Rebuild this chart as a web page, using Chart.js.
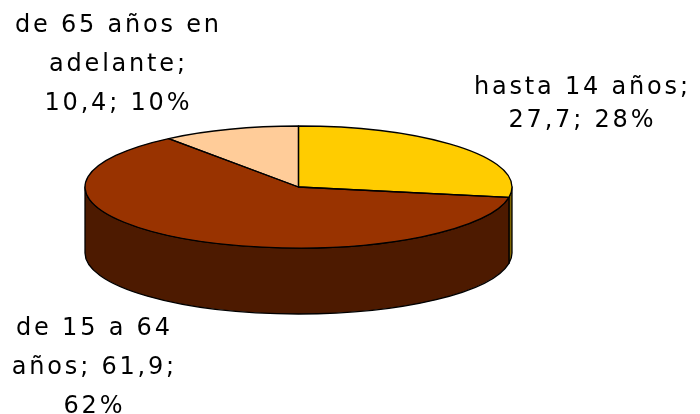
<!DOCTYPE html>
<html><head><meta charset="utf-8">
<script src="https://cdn.jsdelivr.net/npm/chart.js@4"></script>
<style>html,body{margin:0;padding:0;background:#fff;}canvas{display:block}</style>
</head><body>
<canvas id="c" width="700" height="414"></canvas>
<script>
// ---- data ----
const categories = ['hasta 14 años', 'de 15 a 64 años', 'de 65 años en adelante'];
const values = [27.7, 61.9, 10.4];
const percents = [28, 62, 10];
// ---- styles ----
const topColors = ['#FFCC00', '#993300', '#FFCC99'];
const sideColors = ['#806600', '#4D1A00', '#80664C'];
const TILT = 61 / 213.5;
const DEPTH = 66;
const FONT = '24px "DejaVu Sans"';
const LS = 2.8;
// label placement: centre x, first baseline, line height, words per line
const labelLayout = [
  {x: 581, y: 94, lh: 33, words: [3, 2]},
  {x: 93, y: 335, lh: 39, words: [4, 2, 1]},
  {x: 117, y: 32, lh: 39, words: [4, 1, 2]}
];

function labelText(i) {
  return categories[i] + '; ' + values[i].toFixed(1).replace('.', ',') + '; ' + percents[i] + '%';
}
function splitLines(text, counts) {
  const w = text.split(' ');
  const out = []; let p = 0;
  counts.forEach(c => { out.push(w.slice(p, p + c).join(' ')); p += c; });
  if (p < w.length) out[out.length - 1] += ' ' + w.slice(p).join(' ');
  return out;
}

const pie3d = {
  id: 'pie3d',
  beforeDatasetsDraw(chart) {
    const ctx = chart.ctx;
    const arcs = chart.getDatasetMeta(0).data;
    const cx = arcs[0].x, cy = arcs[0].y, rx = arcs[0].outerRadius, ry = rx * TILT;
    ctx.save();
    ctx.lineWidth = 1.3; ctx.strokeStyle = '#000'; ctx.lineJoin = 'round';
    arcs.forEach((arc, i) => {
      const a = Math.max(arc.startAngle, 0), b = Math.min(arc.endAngle, Math.PI);
      if (b <= a) return;
      ctx.beginPath();
      ctx.ellipse(cx, cy, rx, ry, 0, a, b, false);
      ctx.ellipse(cx, cy + DEPTH, rx, ry, 0, b, a, true);
      ctx.closePath();
      ctx.fillStyle = sideColors[i];
      ctx.fill();
      ctx.stroke();
    });
    ctx.restore();
    ctx.save();
    ctx.translate(cx, cy); ctx.scale(1, TILT); ctx.translate(-cx, -cy);
  },
  afterDatasetsDraw(chart) {
    const ctx = chart.ctx;
    ctx.restore();
    const arcs = chart.getDatasetMeta(0).data;
    const cx = arcs[0].x, cy = arcs[0].y, rx = arcs[0].outerRadius, ry = rx * TILT;
    ctx.save();
    ctx.lineWidth = 1.3; ctx.strokeStyle = '#000'; ctx.lineJoin = 'round';
    arcs.forEach(arc => {
      ctx.beginPath();
      ctx.moveTo(cx, cy);
      ctx.ellipse(cx, cy, rx, ry, 0, arc.startAngle, arc.endAngle, false);
      ctx.closePath();
      ctx.stroke();
    });
    // labels
    ctx.font = FONT;
    ctx.letterSpacing = LS + 'px';
    ctx.fillStyle = '#000';
    ctx.textAlign = 'center';
    ctx.textBaseline = 'alphabetic';
    labelLayout.forEach((L, i) => {
      splitLines(labelText(i), L.words).forEach((ln, k) => {
        ctx.fillText(ln, L.x + LS / 2, L.y + k * L.lh);
      });
    });
    ctx.restore();
  }
};

new Chart(document.getElementById('c'), {
  type: 'pie',
  data: {
    labels: categories,
    datasets: [{
      data: values,
      backgroundColor: topColors,
      borderWidth: 0,
      clip: false
    }]
  },
  options: {
    responsive: false,
    animation: false,
    radius: 213.5,
    rotation: 0,
    layout: {padding: {left: 0, right: 103, top: 0, bottom: 40}},
    plugins: {legend: {display: false}, tooltip: {enabled: false}},
    events: []
  },
  plugins: [pie3d]
});
</script>
</body></html>
